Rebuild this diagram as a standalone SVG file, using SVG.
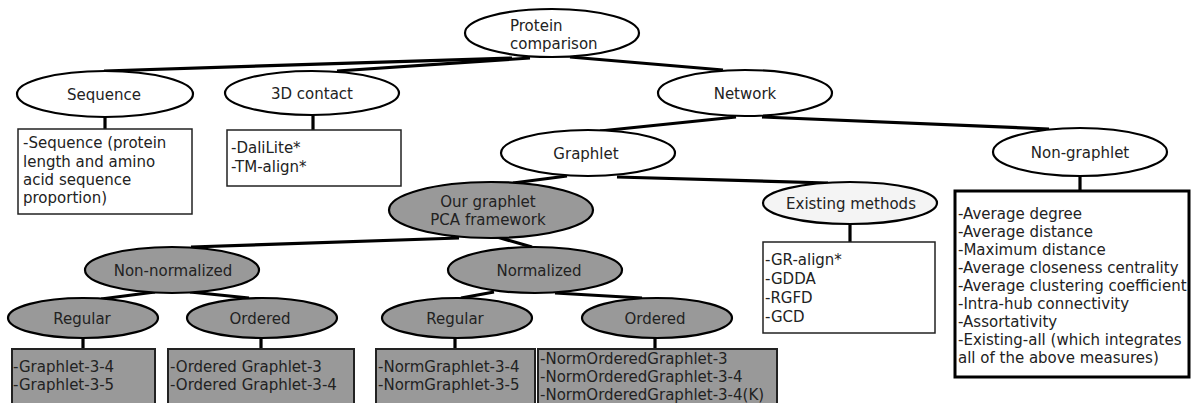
<svg xmlns="http://www.w3.org/2000/svg" width="1191" height="403" viewBox="0 0 1191 403">
<style>
  text { font-family: "DejaVu Sans", "Liberation Sans", sans-serif; font-size: 15px; fill: #222; }
  .c { text-anchor: middle; }
  .el { fill: #ffffff; stroke: #000; stroke-width: 2.2; }
  .elg { fill: #999999; stroke: #000; stroke-width: 2.2; }
  .ell { fill: #f4f4f4; stroke: #000; stroke-width: 2.2; }
  .box { fill: #ffffff; stroke: #222; stroke-width: 1.5; }
  .boxg { fill: #999999; stroke: #222; stroke-width: 2; }
  .boxk { fill: #ffffff; stroke: #000; stroke-width: 3; }
  .ln { stroke: #000; stroke-width: 3.2; fill: none; stroke-linecap: butt; }
</style>
<rect width="1191" height="403" fill="#ffffff"/>

<g id="connectors">
  <line class="ln" x1="512" y1="58" x2="104" y2="71"/>
  <line class="ln" x1="530" y1="58" x2="337" y2="71"/>
  <line class="ln" x1="570" y1="57" x2="723" y2="70"/>
  <line class="ln" x1="736" y1="117" x2="600" y2="131"/>
  <line class="ln" x1="762" y1="117" x2="1049" y2="129"/>
  <line class="ln" x1="567" y1="176" x2="513" y2="183"/>
  <line class="ln" x1="617" y1="177" x2="828" y2="183"/>
  <line class="ln" x1="459" y1="238" x2="191" y2="247"/>
  <line class="ln" x1="497" y1="237" x2="532" y2="247"/>
  <line class="ln" x1="155" y1="292" x2="101" y2="299"/>
  <line class="ln" x1="190" y1="292" x2="249" y2="298"/>
  <line class="ln" x1="494" y1="292" x2="461" y2="298"/>
  <line class="ln" x1="555" y1="293" x2="642" y2="298"/>
  <line class="ln" x1="105" y1="116" x2="105" y2="129"/>
  <line class="ln" x1="313" y1="115" x2="313" y2="130"/>
  <line class="ln" x1="850" y1="224" x2="850" y2="242"/>
  <line class="ln" x1="1080" y1="176" x2="1080" y2="191"/>
  <line class="ln" x1="83" y1="338" x2="83" y2="349"/>
  <line class="ln" x1="261" y1="338" x2="261" y2="349"/>
  <line class="ln" x1="455" y1="338" x2="455" y2="349"/>
  <line class="ln" x1="655" y1="338" x2="655" y2="349"/>
</g>

<g id="protein">
  <ellipse class="el" cx="552" cy="33" rx="87" ry="24"/>
  <text x="510" y="31">Protein</text>
  <text x="510" y="49">comparison</text>
</g>

<g id="sequence">
  <ellipse class="el" cx="105" cy="94" rx="88" ry="23"/>
  <text class="c" x="104" y="99.5">Sequence</text>
</g>
<g id="sequence-box">
  <rect class="box" x="18" y="129" width="174" height="85"/>
  <text x="23" y="148">-Sequence (protein</text>
  <text x="23" y="167">length and amino</text>
  <text x="23" y="185">acid sequence</text>
  <text x="23" y="203">proportion)</text>
</g>

<g id="contact">
  <ellipse class="el" cx="312" cy="93" rx="87" ry="22"/>
  <text class="c" x="312" y="98.5">3D contact</text>
</g>
<g id="contact-box">
  <rect class="box" x="227" y="130" width="174" height="56"/>
  <text x="231" y="153">-DaliLite*</text>
  <text x="231" y="172">-TM-align*</text>
</g>

<g id="network">
  <ellipse class="el" cx="745" cy="93" rx="87" ry="23"/>
  <text class="c" x="745" y="98.5">Network</text>
</g>

<g id="graphlet">
  <ellipse class="el" cx="588" cy="153" rx="87" ry="23"/>
  <text class="c" x="586" y="158.5">Graphlet</text>
</g>

<g id="nongraphlet">
  <ellipse class="el" cx="1080" cy="152" rx="87" ry="24"/>
  <text class="c" x="1080" y="157.5">Non-graphlet</text>
</g>
<g id="nongraphlet-box">
  <rect class="boxk" x="955" y="191" width="234" height="186"/>
  <text x="958" y="219">-Average degree</text>
  <text x="958" y="237">-Average distance</text>
  <text x="958" y="255">-Maximum distance</text>
  <text x="958" y="273">-Average closeness centrality</text>
  <text x="958" y="291">-Average clustering coefficient</text>
  <text x="958" y="309">-Intra-hub connectivity</text>
  <text x="958" y="327">-Assortativity</text>
  <text x="958" y="345">-Existing-all (which integrates</text>
  <text x="958" y="363">all of the above measures)</text>
</g>

<g id="pca">
  <ellipse class="elg" cx="491" cy="210" rx="102" ry="28"/>
  <text class="c" x="488" y="207">Our graphlet</text>
  <text class="c" x="488" y="225">PCA framework</text>
</g>

<g id="existing">
  <ellipse class="ell" cx="850" cy="203" rx="87" ry="21"/>
  <text class="c" x="851" y="208.5">Existing methods</text>
</g>
<g id="existing-box">
  <rect class="box" x="763" y="242" width="172" height="91"/>
  <text x="765" y="265">-GR-align*</text>
  <text x="765" y="284">-GDDA</text>
  <text x="765" y="303">-RGFD</text>
  <text x="765" y="322">-GCD</text>
</g>

<g id="nonnormalized">
  <ellipse class="elg" cx="172" cy="270" rx="87" ry="23"/>
  <text class="c" x="173" y="275.5">Non-normalized</text>
</g>

<g id="normalized">
  <ellipse class="elg" cx="535" cy="270" rx="87" ry="23"/>
  <text class="c" x="539" y="275.5">Normalized</text>
</g>

<g id="regular1">
  <ellipse class="elg" cx="83" cy="318" rx="75" ry="20"/>
  <text class="c" x="82" y="323.5">Regular</text>
</g>
<g id="ordered1">
  <ellipse class="elg" cx="262" cy="318" rx="75" ry="20"/>
  <text class="c" x="260" y="323.5">Ordered</text>
</g>
<g id="regular2">
  <ellipse class="elg" cx="457" cy="318" rx="75" ry="20"/>
  <text class="c" x="455" y="323.5">Regular</text>
</g>
<g id="ordered2">
  <ellipse class="elg" cx="657" cy="318" rx="75" ry="20"/>
  <text class="c" x="655" y="323.5">Ordered</text>
</g>

<g id="regular1-box">
  <rect class="boxg" x="12" y="349" width="143" height="64"/>
  <text x="13" y="372">-Graphlet-3-4</text>
  <text x="13" y="390">-Graphlet-3-5</text>
</g>
<g id="ordered1-box">
  <rect class="boxg" x="168" y="349" width="186" height="64"/>
  <text x="170" y="372">-Ordered Graphlet-3</text>
  <text x="170" y="390">-Ordered Graphlet-3-4</text>
</g>
<g id="regular2-box">
  <rect class="boxg" x="376" y="349" width="159" height="64"/>
  <text x="378" y="372">-NormGraphlet-3-4</text>
  <text x="378" y="390">-NormGraphlet-3-5</text>
</g>
<g id="ordered2-box">
  <rect class="boxg" x="538" y="349" width="239" height="64"/>
  <text x="540" y="364">-NormOrderedGraphlet-3</text>
  <text x="540" y="382">-NormOrderedGraphlet-3-4</text>
  <text x="540" y="400">-NormOrderedGraphlet-3-4(K)</text>
</g>
</svg>
